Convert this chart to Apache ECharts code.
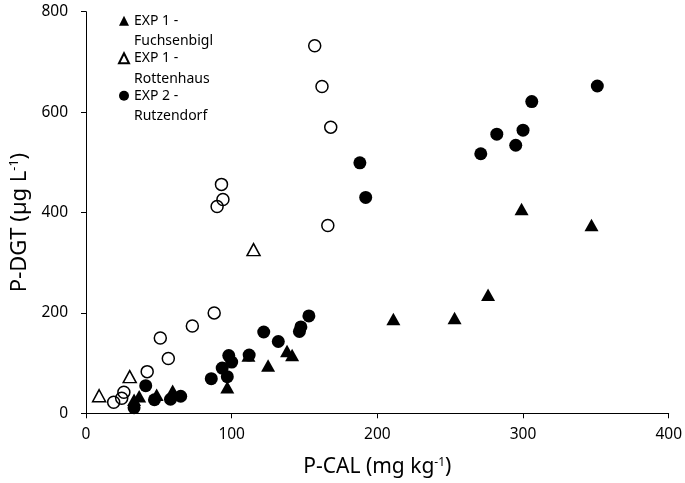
<!DOCTYPE html>
<html>
<head>
<meta charset="utf-8">
<script src="https://cdn.jsdelivr.net/npm/echarts@6/dist/echarts.min.js"></script>
<style>html,body{margin:0;padding:0;background:#fff}#c{width:685px;height:483px}</style>
</head>
<body>
<div id="c"></div>
<script>
// EXP 1 - Fuchsenbigl (filled triangles)
const fuchsX = [33, 36.5, 48.5, 59.5, 97, 111.5, 125, 138, 141.5, 211, 253, 276, 299, 347];
const fuchsY = [27, 34, 37, 45, 52, 115, 95, 124, 116, 188, 190, 236, 407, 375];
// EXP 1 - Rottenhaus (open triangles)
const rottX = [9, 30, 115];
const rottY = [35, 73, 326];
// EXP 2 - Rutzendorf (filled circles)
const rutzX = [33, 41, 47, 58, 65, 86, 93.5, 97, 98, 100, 112, 122, 132, 146.5, 147.5, 153, 188, 192, 271, 282, 295, 300, 306, 351];
const rutzY = [11, 55, 27, 28, 34, 69, 90, 73, 115, 102, 116, 162, 143, 163, 172, 194, 499, 430, 517, 556, 534, 564, 621, 652];
// open circles (no legend entry visible)
const openX = [19, 24.5, 26, 42, 51, 56.5, 73, 88, 90, 93, 94, 157, 162, 166, 168];
const openY = [22, 30, 42, 83, 150, 109, 174, 200, 412, 456, 426, 732, 651, 374, 570];

const legendNames = ['EXP 1 - Fuchsenbigl', 'EXP 1 - Rottenhaus', 'EXP 2 - Rutzendorf'];
const xTicks = [0, 100, 200, 300, 400];
const yTicks = [0, 200, 400, 600, 800];

const pairs = (xs, ys) => xs.map((x, i) => [x, ys[i]]);
const FONT = 'Noto Sans';

const chart = echarts.init(document.getElementById('c'), null, {renderer: 'canvas'});
chart.setOption({
  backgroundColor: '#fff',
  animation: false,
  grid: {left: 86, right: 13.5, top: 11.7, bottom: 69.7, containLabel: false},
  legend: {
    data: legendNames,
    orient: 'vertical',
    left: 118,
    top: -10,
    padding: 0,
    itemWidth: 10,
    itemHeight: 10,
    itemGap: -24,
    formatter: n => '\n' + n.replace(' - ', ' -\n'),
    textStyle: {fontFamily: FONT, fontSize: 14, color: '#000', lineHeight: 20.5}
  },
  xAxis: {
    type: 'value', min: xTicks[0], max: xTicks[xTicks.length - 1], interval: 100,
    name: 'P-CAL (mg kg{sup|-1})', nameLocation: 'middle', nameGap: 43,
    nameTextStyle: {fontFamily: FONT, fontSize: 21, color: '#000',
      rich: {sup: {fontFamily: FONT, fontSize: 12, color: '#000', verticalAlign: 'bottom', padding: [0, 0, 10, 0]}}},
    axisLine: {show: true, onZero: false, lineStyle: {color: '#000', width: 1}},
    axisTick: {show: true, length: 5, lineStyle: {color: '#000'}},
    axisLabel: {fontFamily: FONT, fontSize: 15.5, color: '#000', margin: 13},
    splitLine: {show: false}
  },
  yAxis: {
    type: 'value', min: yTicks[0], max: yTicks[yTicks.length - 1], interval: 200,
    name: 'P-DGT (µg L{sup|-1})', nameLocation: 'middle', nameGap: 39.5, nameRotate: 90,
    nameTextStyle: {fontFamily: FONT, fontSize: 22, color: '#000', padding: [0, 20, 0, 0],
      rich: {sup: {fontFamily: FONT, fontSize: 12.5, color: '#000', verticalAlign: 'bottom', padding: [0, 0, 10, 0]}}},
    axisLine: {show: true, onZero: false, lineStyle: {color: '#000', width: 1}},
    axisTick: {show: true, length: 5, lineStyle: {color: '#000'}},
    axisLabel: {fontFamily: FONT, fontSize: 15.5, color: '#000', margin: 18},
    splitLine: {show: false}
  },
  series: [
    {name: legendNames[0], type: 'scatter', symbol: 'triangle', symbolSize: [14, 12.5],
      itemStyle: {color: '#000', opacity: 1}, data: pairs(fuchsX, fuchsY)},
    {name: legendNames[1], type: 'scatter', symbol: 'triangle', symbolSize: [13, 12],
      itemStyle: {color: 'rgba(0,0,0,0)', borderColor: '#000', borderWidth: 1.5, opacity: 1}, data: pairs(rottX, rottY)},
    {name: legendNames[2], type: 'scatter', symbol: 'circle', symbolSize: 13,
      itemStyle: {color: '#000', opacity: 1}, data: pairs(rutzX, rutzY)},
    {name: 'open circles', type: 'scatter', symbol: 'circle', symbolSize: 12,
      itemStyle: {color: 'rgba(0,0,0,0)', borderColor: '#000', borderWidth: 1.5, opacity: 1}, data: pairs(openX, openY)}
  ]
});
</script>
</body>
</html>
